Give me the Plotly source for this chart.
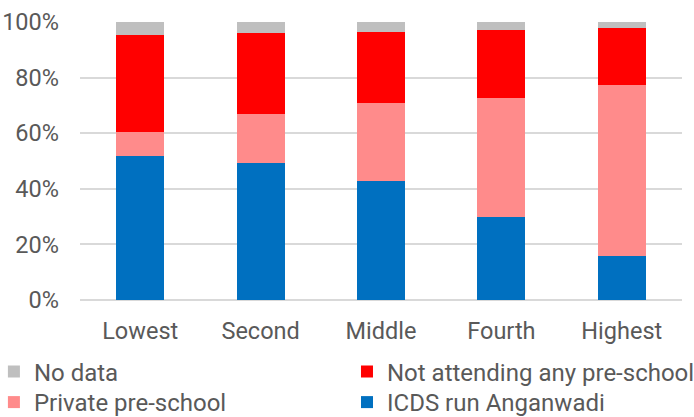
import plotly.graph_objects as go

categories = ["Lowest", "Second", "Middle", "Fourth", "Highest"]
icds = [51.8, 49.4, 42.7, 29.9, 15.8]
private = [8.6, 17.4, 28.0, 42.9, 61.7]
not_attending = [34.8, 29.2, 25.8, 24.3, 20.3]
no_data = [4.8, 4.0, 3.5, 2.9, 2.2]

series = [
    ("ICDS run Anganwadi", icds, "#0070C0", "legend4"),
    ("Private pre-school", private, "#FF8B8B", "legend3"),
    ("Not attending any pre-school", not_attending, "#FF0000", "legend2"),
    ("No data", no_data, "#BFBFBF", "legend"),
]

fig = go.Figure()
for name, vals, color, leg in series:
    fig.add_trace(go.Bar(
        x=categories, y=vals, name=name, legend=leg,
        marker=dict(color=color, line=dict(width=0)),
    ))

font_color = "#595959"
fsize = 23.5
legend_common = dict(
    orientation="v",
    xanchor="left",
    yanchor="middle",
    font=dict(family="Roboto", size=24, color=font_color),
    bgcolor="rgba(0,0,0,0)",
)
col1_x, col2_x = -0.143, 0.4435
row1_y, row2_y = -0.259, -0.3687
fig.update_layout(
    width=694, height=417,
    margin=dict(l=80, r=12, t=22, b=117, pad=0, autoexpand=False),
    barmode="stack",
    bargap=0.6,
    paper_bgcolor="white",
    plot_bgcolor="white",
    font=dict(family="Roboto", size=fsize, color=font_color),
    showlegend=True,
    legend=dict(x=col1_x, y=row1_y, **legend_common),
    legend2=dict(x=col2_x, y=row1_y, **legend_common),
    legend3=dict(x=col1_x, y=row2_y, **legend_common),
    legend4=dict(x=col2_x, y=row2_y, **legend_common),
    xaxis=dict(
        showgrid=False, zeroline=False, showline=False,
        ticks="", ticklabelstandoff=14,
        tickfont=dict(size=fsize, color=font_color),
    ),
    yaxis=dict(
        range=[0, 100], dtick=20, ticksuffix="%",
        showgrid=True, gridcolor="#D9D9D9", gridwidth=1.5,
        zeroline=True, zerolinecolor="#D9D9D9", zerolinewidth=1.5,
        showline=False, ticks="", ticklabelstandoff=20,
        tickfont=dict(size=fsize, color=font_color),
    ),
)

fig.write_html("out.html")
